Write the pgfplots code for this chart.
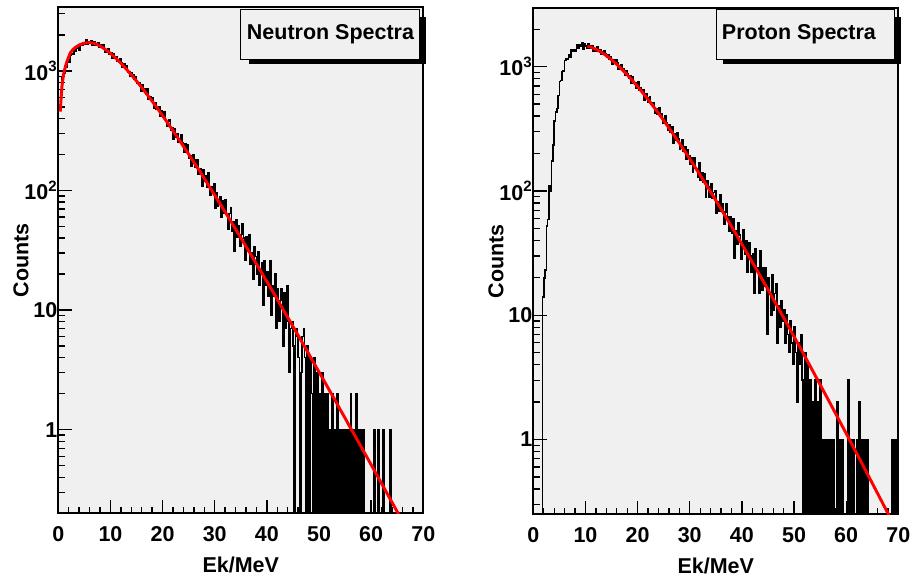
\documentclass[border=0pt]{standalone}
\usepackage{fontspec}
\setmainfont{Liberation Sans}
\usepackage{pgfplots}
\pgfplotsset{compat=1.18}
\definecolor{framebg}{RGB}{240,240,240}
\newcommand\bfont{\fontsize{16.1}{19}\selectfont\bfseries}
\pgfplotsset{
 rootstyle/.style={
  scale only axis, width=273.75pt, height=379.5pt,
  xmin=0, xmax=70, clip=true,
  axis background/.style={fill=framebg},
  axis line style={line width=1.4pt},
  tick align=inside, xtick pos=bottom, ytick pos=left,
  xtick={0,10,20,30,40,50,60,70},
  xticklabels={0,10,20,30,40,50,60,70},
  minor x tick num=4,
  major tick length=10pt, minor tick length=5pt,
  every tick/.style={black, line width=1pt},
  ytick={1,10,100,1000},
  yticklabels={1,10,{10\textsuperscript{2}},{10\textsuperscript{3}}},
  ticklabel style={font=\bfont},
  xticklabel style={yshift=-6pt},
  yticklabel style={inner xsep=0.5pt},
  xlabel={Ek/MeV}, ylabel={Counts},
  label style={font=\bfont},
  xlabel style={at={(axis description cs:0.5,-0.1174)}, anchor=base},
  ylabel style={at={(axis description cs:-0.102,0.5)}, anchor=center},
}}
\begin{document}
\begin{tikzpicture}
\path[use as bounding box] (0,0) rectangle (684pt,435.75pt);
\begin{axis}[ymode=log, rootstyle, at={(43.725pt,50.775pt)}, anchor=south west,
  ymin=0.2, ymax=3400,
  minor ytick={0.2,0.3,0.4,0.5,0.6,0.7,0.8,0.9,2,3,4,5,6,7,8,9,20,30,40,50,60,70,80,90,200,300,400,500,600,700,800,900,2000,3000}]
\addplot[black, line width=1.2pt, const plot mark left] coordinates {
(0.25,481) (0.5,639) (0.75,884) (1,948) (1.25,1107) (1.5,1075) (1.75,1184) (2,1181)
(2.25,1362) (2.5,1394) (2.75,1391) (3,1525) (3.25,1450) (3.5,1535) (3.75,1601) (4,1496)
(4.25,1688) (4.5,1629) (4.75,1718) (5,1658) (5.25,1818) (5.5,1661) (5.75,1741) (6,1717)
(6.25,1801) (6.5,1629) (6.75,1737) (7,1642) (7.25,1682) (7.5,1705) (7.75,1565) (8,1661)
(8.25,1563) (8.5,1651) (8.75,1534) (9,1443) (9.25,1510) (9.5,1531) (9.75,1389) (10,1415)
(10.25,1269) (10.5,1392) (10.75,1281) (11,1316) (11.25,1203) (11.5,1237) (11.75,1270) (12,1177)
(12.25,1077) (12.5,1138) (12.75,1057) (13,1107) (13.25,979) (13.5,988) (13.75,895) (14,970)
(14.25,921) (14.5,852) (14.75,897) (15,785) (15.25,798) (15.5,799) (15.75,682) (16,768)
(16.25,690) (16.5,709) (16.75,636) (17,703) (17.25,582) (17.5,607) (17.75,571) (18,600)
(18.25,491) (18.5,539) (18.75,478) (19,492) (19.25,498) (19.5,418) (19.75,462) (20,409)
(20.25,453) (20.5,391) (20.75,345) (21,378) (21.25,390) (21.5,322) (21.75,335) (22,267)
(22.25,330) (22.5,281) (22.75,300) (23,251) (23.25,270) (23.5,290) (23.75,251) (24,210)
(24.25,244) (24.5,212) (24.75,239) (25,186) (25.25,196) (25.5,160) (25.75,198) (26,181)
(26.25,156) (26.5,181) (26.75,138) (27,148) (27.25,153) (27.5,108) (27.75,149) (28,120)
(28.25,132) (28.5,106) (28.75,140) (29,92) (29.25,107) (29.5,97) (29.75,113) (30,71)
(30.25,95) (30.5,74) (30.75,83) (31,89) (31.25,60) (31.5,82) (31.75,64) (32,84)
(32.25,63) (32.5,47) (32.75,64) (33,71) (33.25,46) (33.5,55) (33.75,31) (34,57)
(34.25,41) (34.5,51) (34.75,34) (35,43) (35.25,53) (35.5,40) (35.75,26) (36,41)
(36.25,31) (36.5,43) (36.75,24) (37,30) (37.25,18) (37.5,34) (37.75,28) (38,20)
(38.25,31) (38.5,16) (38.75,21) (39,25) (39.25,11) (39.5,26) (39.75,16) (40,21)
(40.25,13) (40.5,26) (40.75,9) (41,16) (41.25,13) (41.5,20) (41.75,7) (42,15)
(42.25,8) (42.5,12) (42.75,15) (43,5) (43.25,14) (43.5,7) (43.75,16) (44,8)
(44.25,3) (44.5,7) (44.75,8) (45,5) (45.25,0.01) (45.5,7) (45.75,6) (46,4)
(46.25,0.01) (46.5,3) (46.75,6) (47,7) (47.25,4) (47.5,0.01) (47.75,5) (48,0.01)
(48.25,4) (48.5,2) (48.75,0.01) (49,4) (49.25,0.01) (49.5,3) (49.75,0.01) (50,2)
(50.25,0.01) (50.5,3) (50.75,0.01) (51,2) (51.25,0.01) (51.5,2) (51.75,0.01) (52,1)
(52.25,0.01) (52.5,2) (52.75,0.01) (53,1) (53.25,0.01) (53.5,2) (53.75,0.01) (54,1)
(54.25,0.01) (54.5,1) (54.75,0.01) (55,1) (55.25,0.01) (55.5,1) (55.75,0.01) (56,2)
(56.25,0.01) (56.5,1) (56.75,0.01) (57,2) (57.25,0.01) (57.5,1) (57.75,0.01) (58,1)
(58.25,0.01) (58.5,1) (58.75,0.01) (59,0.01) (59.25,0.01) (59.5,0.01) (59.75,0.01) (60,0.01)
(60.25,0.01) (60.5,1) (60.75,0.01) (61,0.01) (61.25,1) (61.5,0.01) (61.75,0.01) (62,0.01)
(62.25,1) (62.5,0.01) (62.75,0.01) (63,0.01) (63.25,0.01) (63.5,1) (63.75,0.01) (64,0.01)
};
\addplot[red, line width=2.2pt] coordinates {
(0.38,457) (0.5,560) (0.7,741) (1.0,933) (1.3,1060) (1.67,1202) (2.0,1310) (2.3,1413)
(2.75,1500) (3.26,1570) (4,1645) (5,1705) (6,1725) (7,1695) (8,1618) (9,1514) (10,1400)
(11,1279) (12,1159) (13,1040) (14,927) (15,822) (16,726) (17,637) (18,557) (19,486)
(20,422) (21,366) (22,316) (23,272) (24,234) (25,201) (26,172) (27,148) (28,126)
(29,107) (30,91.4) (31,77.8) (32,66.1) (33,56.1) (34,47.5) (35,40.3) (36,34.0)
(37,28.8) (38,24.3) (39,20.5) (40,17.3) (41,14.6) (42,12.3) (43,10.3) (44,8.69)
(45,7.29) (46,6.14) (47,5.15) (48,4.33) (49,3.62) (50,3.04) (51,2.55) (52,2.13)
(53,1.79) (54,1.49) (55,1.25) (56,1.04) (57,0.873) (58,0.730) (59,0.610) (60,0.509)
(61,0.425) (62,0.355) (63,0.296) (64,0.247) (65,0.206) (66,0.171) (67,0.143)
(68,0.119) (69,0.099) (70,0.083)
};
\end{axis}
\begin{axis}[ymode=log, rootstyle, at={(399.975pt,50.025pt)}, anchor=south west,
  ymin=0.25, ymax=2950,
  minor ytick={0.3,0.4,0.5,0.6,0.7,0.8,0.9,2,3,4,5,6,7,8,9,20,30,40,50,60,70,80,90,200,300,400,500,600,700,800,900,2000}]
\addplot[black, line width=1.2pt, const plot mark left] coordinates {
(1.5,0.01) (1.75,14) (2,20) (2.25,23) (2.5,52) (2.75,59) (3,109) (3.25,99) (3.5,175)
(3.75,234) (4,365) (4.25,433) (4.5,459) (4.75,588) (5,759) (5.25,772) (5.5,915)
(5.75,927) (6,1123) (6.25,1149) (6.5,1150) (6.75,1257) (7,1196) (7.25,1366) (7.5,1321)
(7.75,1374) (8,1337) (8.25,1513) (8.5,1405) (8.75,1500) (9,1455) (9.25,1545) (9.5,1395)
(9.75,1520) (10,1469) (10.25,1411) (10.5,1517) (10.75,1415) (11,1462) (11.25,1477) (11.5,1336)
(11.75,1401) (12,1343) (12.25,1441) (12.5,1332) (12.75,1371) (13,1254) (13.25,1308) (13.5,1351)
(13.75,1266) (14,1181) (14.25,1241) (14.5,1155) (14.75,1209) (15,1045) (15.25,1127) (15.5,1057)
(15.75,1131) (16,1065) (16.25,963) (16.5,994) (16.75,1043) (17,931) (17.25,965) (17.5,855)
(17.75,923) (18,869) (18.25,805) (18.5,840) (18.75,737) (19,825) (19.25,747) (19.5,744)
(19.75,675) (20,760) (20.25,649) (20.5,681) (20.75,622) (21,654) (21.25,538) (21.5,602)
(21.75,563) (22,515) (22.25,568) (22.5,495) (22.75,511) (23,511) (23.25,424) (23.5,454)
(23.75,415) (24,465) (24.25,401) (24.5,419) (24.75,352) (25,379) (25.25,401) (25.5,355)
(25.75,310) (26,341) (26.25,298) (26.5,326) (26.75,244) (27,287) (27.25,254) (27.5,294)
(27.75,262) (28,215) (28.25,233) (28.5,260) (28.75,208) (29,227) (29.25,179) (29.5,214)
(29.75,192) (30,165) (30.25,185) (30.5,142) (30.75,185) (31,153) (31.25,152) (31.5,128)
(31.75,170) (32,123) (32.25,141) (32.5,118) (32.75,137) (33,89) (33.25,121) (33.5,107)
(33.75,89) (34,115) (34.25,87) (34.5,97) (34.75,101) (35,66) (35.25,82) (35.5,69)
(35.75,93) (36,69) (36.25,79) (36.5,54) (36.75,68) (37,79) (37.25,62) (37.5,47)
(37.75,62) (38,46) (38.25,60) (38.5,29) (38.75,48) (39,37) (39.25,55) (39.5,44)
(39.75,28) (40,37) (40.25,49) (40.5,31) (40.75,40) (41,22) (41.25,38) (41.5,30)
(41.75,22) (42,31) (42.25,15) (42.5,34) (42.75,23) (43,24) (43.25,15) (43.5,33)
(43.75,16) (44,24) (44.25,17) (44.5,24) (44.75,7) (45,20) (45.25,15) (45.5,10)
(45.75,21) (46,11) (46.25,15) (46.5,18) (46.75,6) (47,12) (47.25,8) (47.5,13)
(47.75,9) (48,11) (48.25,6) (48.5,10) (48.75,7) (49,5) (49.25,9) (49.5,6)
(49.75,4) (50,8) (50.25,5) (50.5,2) (50.75,6) (51,4) (51.25,7) (51.5,3)
(51.75,0.01) (52,5) (52.25,0.01) (52.5,4) (52.75,0.01) (53,3) (53.25,0.01) (53.5,2)
(53.75,0.01) (54,3) (54.25,0.01) (54.5,2) (54.75,0.01) (55,3) (55.25,0.01) (55.5,1)
(55.75,0.01) (56,1) (56.25,0.01) (56.5,1) (56.75,0.01) (57,1) (57.25,0.01) (57.5,1)
(57.75,0.01) (58,0.01) (58.25,2) (58.5,0.01) (58.75,1) (59,0.01) (59.25,1) (59.5,0.01)
(59.75,0.01) (60,0.01) (60.25,3) (60.5,0.01) (60.75,1) (61,0.01) (61.25,1) (61.5,0.01)
(61.75,0.01) (62,1) (62.25,0.01) (62.5,2) (62.75,0.01) (63,1) (63.25,0.01) (63.5,1)
(63.75,0.01) (64,1) (64.25,0.01) (64.5,0.01) (64.75,0.01) (65,0.01) (65.25,0.01) (65.5,0.01)
(65.75,0.01) (66,0.01) (66.25,0.01) (66.5,0.01) (66.75,0.01) (67,0.01) (67.25,0.01) (67.5,0.01)
(67.75,0.01) (68,0.01) (68.25,0.01) (68.5,0.01) (68.75,1) (69,0.01) (69.25,1) (69.5,0.01)
(69.75,1) (70,0.01)
};
\addplot[red, line width=2.2pt] coordinates {
(10.4,1459) (11,1437) (12,1382) (13,1310) (14,1227) (15,1137) (16,1044) (17,951)
(18,861) (19,774.5) (20,692) (21,615.5) (22,545) (23,480.5) (24,422) (25,369)
(26,322) (27,280) (28,243) (29,210) (30,181) (31,156) (32,134) (33,115) (34,98.3)
(35,84) (36,71.6) (37,61) (38,51.9) (39,44) (40,37.3) (41,31.6) (42,26.7) (43,22.6)
(44,19.1) (45,16.1) (46,13.5) (47,11.4) (48,9.56) (49,8.03) (50,6.74) (51,5.65)
(52,4.73) (53,3.96) (54,3.31) (55,2.77) (56,2.31) (57,1.93) (58,1.61) (59,1.34)
(60,1.12) (61,0.931) (62,0.775) (63,0.645) (64,0.536) (65,0.445) (66,0.370)
(67,0.307) (68,0.255) (69,0.211) (70,0.175)
};
\end{axis}
\begin{scope}[x=0.75pt, y=-0.75pt, yshift=435.75pt]
\fill[black] (249.3,16.7) rectangle (425.7,64.3);
\filldraw[fill=framebg, draw=black, line width=0.75pt] (240.7,9.3) rectangle (419,59.3);
\node[anchor=base west, inner sep=0pt, font=\bfont] at (246.7,40) {Neutron Spectra};
\fill[black] (723.3,16.7) rectangle (900.7,64.3);
\filldraw[fill=framebg, draw=black, line width=0.75pt] (716,9.3) rectangle (894.3,59.3);
\node[anchor=base west, inner sep=0pt, font=\bfont] at (721.7,40) {Proton Spectra};
\end{scope}
\end{tikzpicture}
\end{document}
